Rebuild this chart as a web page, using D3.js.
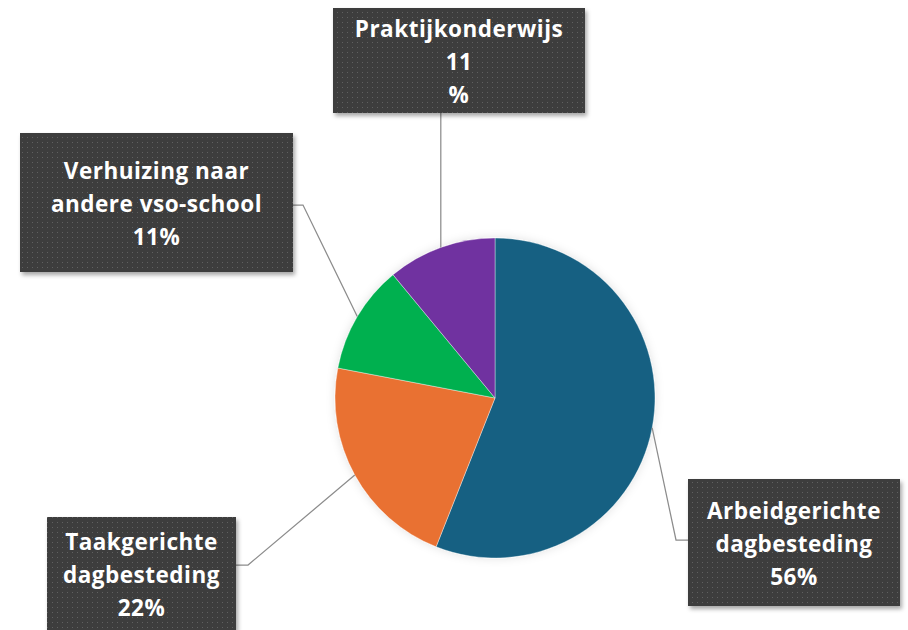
<!DOCTYPE html>
<html>
<head>
<meta charset="utf-8">
<script src="https://cdn.jsdelivr.net/npm/d3@7"></script>
<style>
  body { margin: 0; background: #fff; }
  svg { display: block; }
</style>
</head>
<body>
<svg width="908" height="630"></svg>
<script>
// data
var categories = ["Arbeidgerichte dagbesteding", "Taakgerichte dagbesteding", "Verhuizing naar andere vso-school", "Praktijkonderwijs"];
var values = [56, 22, 11, 11];
var colors = ["#156082", "#e97132", "#00b050", "#7030a0"];
// how the labels wrap in the picture
var labelLines = [
    ["Arbeidgerichte", "dagbesteding", "56%"],
    ["Taakgerichte", "dagbesteding", "22%"],
    ["Verhuizing naar", "andere vso-school", "11%"],
    ["Praktijkonderwijs", "11", "%"]
];

var width = 908, height = 630;
var cx = 495, cy = 398, radius = 160;

// label boxes (x, y, w, h) and elbow point of the leader line
var boxes = [
    { x: 688, y: 479, w: 212, h: 127, ex: 676, ey: 540, side: "left" },
    { x: 47,  y: 517, w: 189, h: 113, ex: 248, ey: 565, side: "right" },
    { x: 20,  y: 133, w: 273, h: 139, ex: 303, ey: 205, side: "right" },
    { x: 333, y: 8,   w: 252, h: 105, ex: null, ey: null, side: "bottom" }
];

var svg = d3.select("svg");
var defs = svg.append("defs");

var pat = defs.append("pattern")
    .attr("id", "dots")
    .attr("width", 5)
    .attr("height", 5)
    .attr("patternUnits", "userSpaceOnUse");
pat.append("rect").attr("width", 5).attr("height", 5).attr("fill", "#3c3c3c");
pat.append("rect").attr("x", 2).attr("y", 2).attr("width", 1).attr("height", 1).attr("fill", "#606060");

var shadow = defs.append("filter").attr("id", "shadow")
    .attr("x", "-10%").attr("y", "-10%").attr("width", "130%").attr("height", "130%");
shadow.append("feDropShadow")
    .attr("dx", 2).attr("dy", 3).attr("stdDeviation", 2)
    .attr("flood-color", "#000").attr("flood-opacity", 0.35);

var pieShadow = defs.append("filter").attr("id", "pieShadow")
    .attr("x", "-20%").attr("y", "-20%").attr("width", "140%").attr("height", "140%");
pieShadow.append("feDropShadow")
    .attr("dx", 0).attr("dy", 0).attr("stdDeviation", 5)
    .attr("flood-color", "#000").attr("flood-opacity", 0.12);

var pie = d3.pie().sort(null).value(function (d) { return d; });
var arcs = pie(values);
var arc = d3.arc().innerRadius(0).outerRadius(radius);

var g = svg.append("g").attr("transform", "translate(" + cx + "," + cy + ")");

g.append("g").attr("filter", "url(#pieShadow)")
    .selectAll("path")
    .data(arcs).enter()
    .append("path")
    .attr("d", arc)
    .attr("fill", function (d, i) { return colors[i]; })
    .attr("stroke", "#ffffff")
    .attr("stroke-opacity", 0.5)
    .attr("stroke-width", 0.75);

// leader lines
arcs.forEach(function (d, i) {
    var mid = (d.startAngle + d.endAngle) / 2;
    var px = cx + radius * Math.sin(mid);
    var py = cy - radius * Math.cos(mid);
    var b = boxes[i];
    var pts;
    if (b.side === "bottom") {
        pts = [[px, py], [px, b.y + b.h]];
    } else {
        var bx = b.side === "left" ? b.x : b.x + b.w;
        pts = [[px, py], [b.ex, b.ey], [bx, b.ey]];
    }
    svg.append("path")
        .attr("d", d3.line()(pts))
        .attr("fill", "none")
        .attr("stroke", "#8c8c8c")
        .attr("stroke-width", 1.25);
});

// label boxes
var lab = svg.selectAll("g.label")
    .data(boxes).enter()
    .append("g")
    .attr("class", "label");

lab.append("rect")
    .attr("x", function (d) { return d.x; })
    .attr("y", function (d) { return d.y; })
    .attr("width", function (d) { return d.w; })
    .attr("height", function (d) { return d.h; })
    .attr("fill", "url(#dots)")
    .attr("filter", "url(#shadow)");

lab.each(function (d, i) {
    var lines = labelLines[i];
    var lh = 33;
    var y0 = d.y + d.h / 2 - (lines.length - 1) * lh / 2 + 2;
    d3.select(this).selectAll("text")
        .data(lines).enter()
        .append("text")
        .attr("x", d.x + d.w / 2)
        .attr("y", function (t, j) { return y0 + j * lh; })
        .attr("dy", "0.35em")
        .attr("text-anchor", "middle")
        .attr("fill", "#ffffff")
        .attr("font-family", "'Open Sans', sans-serif")
        .attr("font-weight", 700)
        .attr("font-size", 22.5)
        .attr("letter-spacing", 0.5)
        .text(function (t) { return t; });
});
</script>
</body>
</html>
